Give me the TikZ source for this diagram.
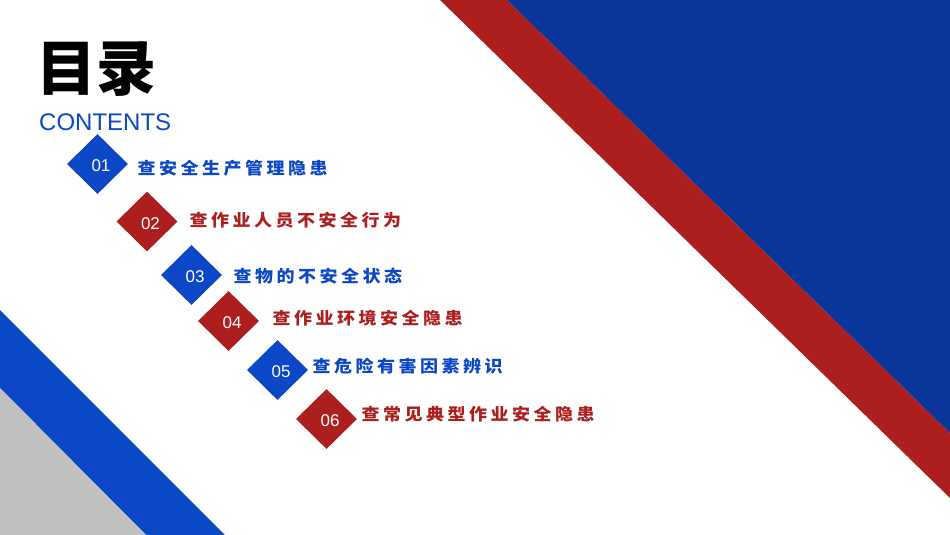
\documentclass[tikz,border=0pt]{standalone}
\usepackage{fontspec}
\setmainfont{Liberation Sans}
\newfontfamily\cjk{Noto Sans CJK SC}
\usetikzlibrary{shapes.geometric}
\definecolor{mblue}{HTML}{0B47C6}
\definecolor{dblue}{HTML}{0A369B}
\definecolor{mred}{HTML}{AD1F1F}
\definecolor{mgray}{HTML}{C0C0C0}
\newcommand\spcd[1]{\foreach \ch in {#1}{\ch\hspace{3.5pt}}}
\tikzset{
  dia/.style={diamond, aspect=1, inner sep=0pt, minimum width=61pt, minimum height=60pt, draw=none, fill=#1},
  num/.style={text=white, font=\fontsize{17}{17}\selectfont, inner sep=0pt},
  lbl/.style={anchor=west, inner sep=0pt, text=#1, yscale=0.92, font=\cjk\bfseries\fontsize{18}{18}\selectfont},
}
\begin{document}
\begin{tikzpicture}[x=1pt,y=-1pt]
\useasboundingbox (0,0) rectangle (950,535);
\fill[white] (0,0) rectangle (950,535);
% top-right shapes
\fill[mred] (440,0) -- (507,0) -- (950,433) -- (950,498) -- cycle;
\fill[dblue] (507,0) -- (950,0) -- (950,433) -- cycle;
% bottom-left shapes
\fill[mblue] (0,310) -- (225,535) -- (146,535) -- (0,388) -- cycle;
\fill[mgray] (0,388) -- (146,535) -- (0,535) -- cycle;
% title
\node[inner sep=0pt, font=\cjk\bfseries\fontsize{60}{60}\selectfont] (title) at (96.5,69.5) {目录};
\node[anchor=base west, inner sep=0pt, text=mblue, font=\fontsize{24}{24}\selectfont] (contents) at (39,130) {CONTENTS};
% diamonds
\node[dia=mblue] (d1) at (97.5,164) {};
\node[dia=mred]  (d2) at (147,221.5) {};
\node[dia=mblue] (d3) at (191.5,275) {};
\node[dia=mred]  (d4) at (228.5,321) {};
\node[dia=mblue] (d5) at (277.5,370) {};
\node[dia=mred]  (d6) at (326.5,419) {};
\node[num] (n1) at ([shift={(3.5,2)}]d1.center) {01};
\node[num] (n2) at ([shift={(3.5,2)}]d2.center) {02};
\node[num] (n3) at ([shift={(3.5,2)}]d3.center) {03};
\node[num] (n4) at ([shift={(3.5,2)}]d4.center) {04};
\node[num] (n5) at ([shift={(3.5,2)}]d5.center) {05};
\node[num] (n6) at ([shift={(3.5,2)}]d6.center) {06};
% labels
\node[lbl=mblue] (t1) at (137.5,168) {\spcd{查,安,全,生,产,管,理,隐,患}};
\node[lbl=mred]  (t2) at (189.5,220) {\spcd{查,作,业,人,员,不,安,全,行,为}};
\node[lbl=mblue] (t3) at (233.5,276) {\spcd{查,物,的,不,安,全,状,态}};
\node[lbl=mred]  (t4) at (272.5,318) {\spcd{查,作,业,环,境,安,全,隐,患}};
\node[lbl=mblue] (t5) at (312.5,366) {\spcd{查,危,险,有,害,因,素,辨,识}};
\node[lbl=mred]  (t6) at (361.5,414) {\spcd{查,常,见,典,型,作,业,安,全,隐,患}};
\end{tikzpicture}
\end{document}
